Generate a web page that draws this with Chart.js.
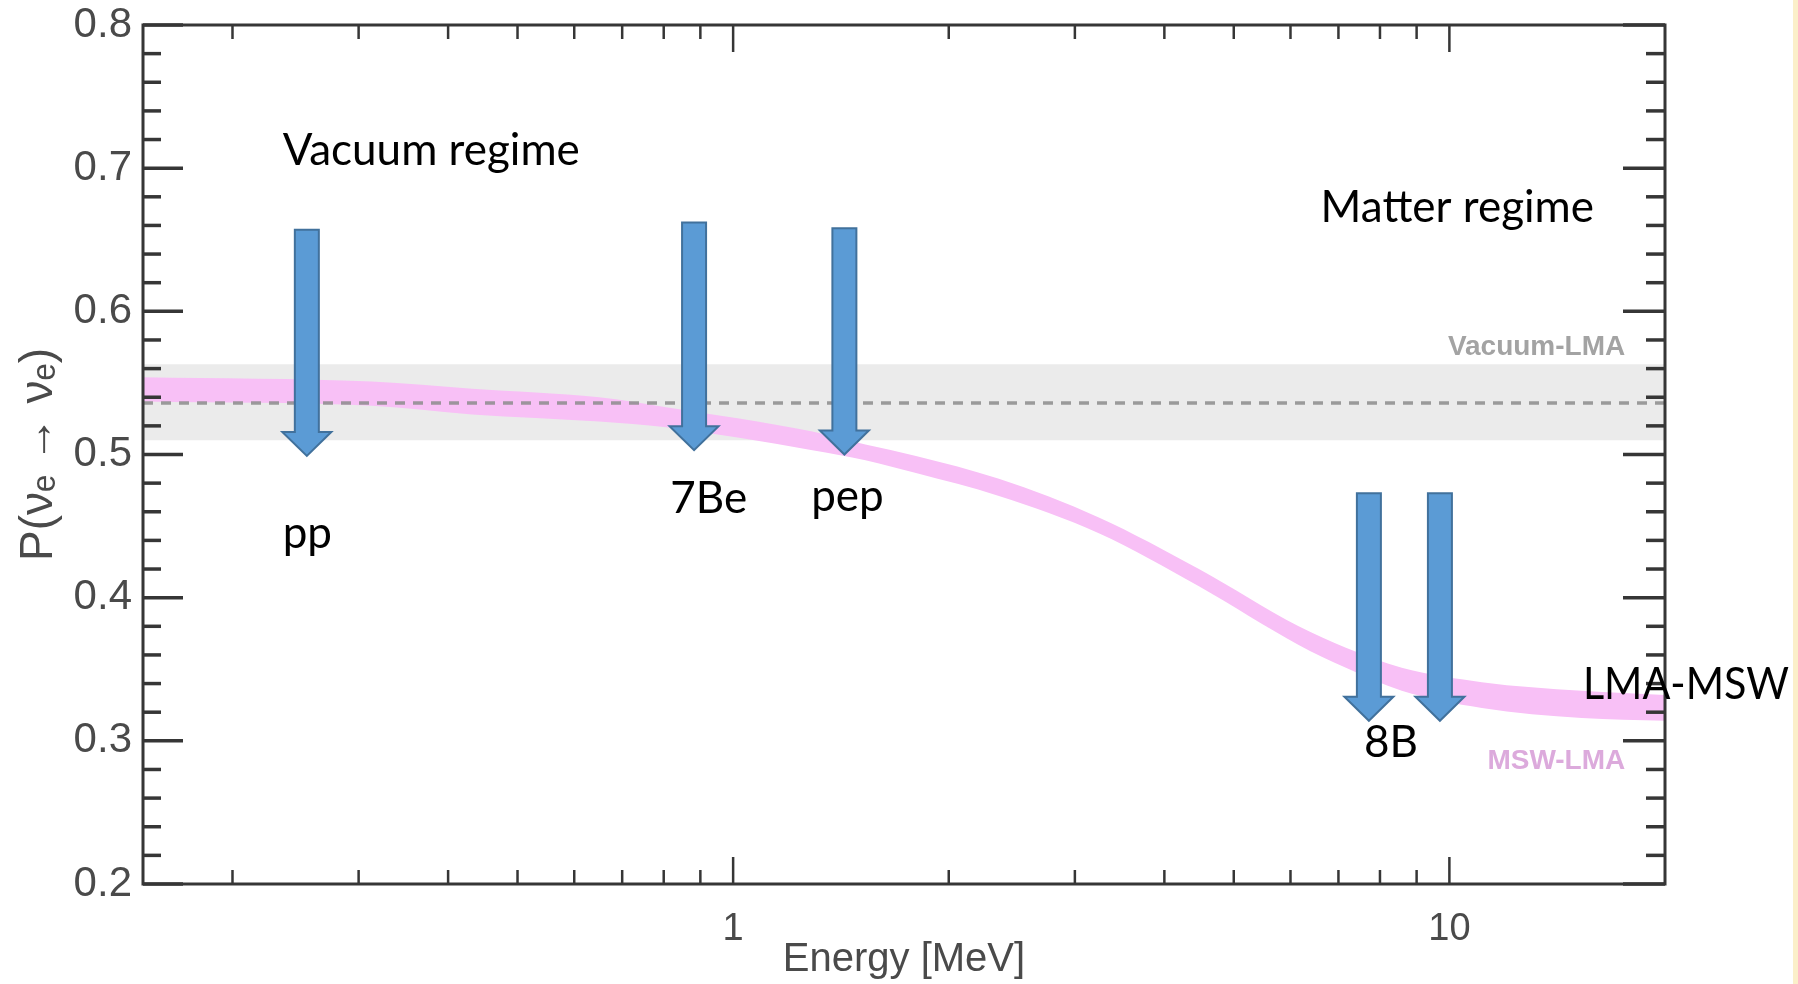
<!DOCTYPE html>
<html>
<head>
<meta charset="utf-8">
<script src="https://cdn.jsdelivr.net/npm/chart.js@4.4.0/dist/chart.umd.min.js"></script>
<style>
  html, body { margin: 0; padding: 0; background: #fff; }
  #wrap { width: 1798px; height: 984px; position: relative; }
</style>
</head>
<body>
<div id="wrap"><canvas id="chart" width="1798" height="984"></canvas></div>
<script>
// axis ranges and ticks
var xRange = [0.15, 20];
var yRange = [0.2, 0.8];
var xLabelTicks = [1, 10];
var xMinorTicks = [0.2, 0.3, 0.4, 0.5, 0.6, 0.7, 0.8, 0.9, 2, 3, 4, 5, 6, 7, 8, 9];
var yLabelTicks = [0.2, 0.3, 0.4, 0.5, 0.6, 0.7, 0.8];
var yMinorTicks = [0.22, 0.24, 0.26, 0.28, 0.32, 0.34, 0.36, 0.38, 0.42, 0.44, 0.46, 0.48,
                   0.52, 0.54, 0.56, 0.58, 0.62, 0.64, 0.66, 0.68, 0.72, 0.74, 0.76, 0.78];

// Vacuum-LMA band (flat)
var vacuumEnergy = [0.15, 20];
var vacuumUpper = [0.563, 0.563];
var vacuumLower = [0.510, 0.510];
var vacuumCentre = [0.536, 0.536];

// MSW-LMA band
var mswEnergy = [0.15, 0.313, 0.432, 0.65, 0.806, 1.29, 1.53, 1.80, 2.35, 3.24, 4.47, 6.16, 7.17, 8.58, 11.1, 15.3, 20];
var mswUpper = [0.554, 0.551, 0.546, 0.540, 0.533, 0.516, 0.507, 0.499, 0.483, 0.456, 0.420, 0.380, 0.365, 0.351, 0.341, 0.335, 0.332];
var mswLower = [0.537, 0.534, 0.528, 0.523, 0.519, 0.503, 0.496, 0.487, 0.471, 0.445, 0.408, 0.367, 0.351, 0.335, 0.323, 0.316, 0.314];

// source arrows (energy in MeV, probability at top and tip)
var arrowEnergy = [0.254, 0.882, 1.43, 7.72, 9.70];
var arrowTop = [0.657, 0.662, 0.658, 0.473, 0.473];
var arrowTip = [0.499, 0.503, 0.500, 0.314, 0.314];

// text notes, anchored in data units
var noteText = ['Vacuum regime', 'Matter regime', 'pp', '7Be', 'pep', '8B', 'LMA-MSW'];
var noteEnergy = [0.235, 6.61, 0.235, 0.817, 1.285, 7.60, 15.36];
var noteProb = [0.7023, 0.6625, 0.435, 0.4588, 0.4602, 0.2885, 0.329];

var bandNames = ['Vacuum-LMA', 'MSW-LMA'];
var bandNameEnergy = [17.6, 17.6];
var bandNameProb = [0.5697, 0.280];

function pts(xs, ys) {
  return xs.map(function (x, i) { return { x: x, y: ys[i] }; });
}

function tick(c, x1, y1, x2, y2) {
  c.beginPath();
  c.moveTo(x1, y1);
  c.lineTo(x2, y2);
  c.stroke();
}

function drawArrow(c, x, yTop, yTip) {
  var sw = 12, hw = 24.5, hl = 24;
  c.beginPath();
  c.moveTo(x - sw, yTop);
  c.lineTo(x + sw, yTop);
  c.lineTo(x + sw, yTip - hl);
  c.lineTo(x + hw, yTip - hl);
  c.lineTo(x, yTip);
  c.lineTo(x - hw, yTip - hl);
  c.lineTo(x - sw, yTip - hl);
  c.closePath();
  c.fillStyle = '#5b9bd5';
  c.fill();
  c.strokeStyle = '#41719c';
  c.lineWidth = 2;
  c.stroke();
}

var decorations = {
  id: 'decorations',
  beforeDraw: function (chart) {
    var c = chart.ctx;
    c.save();
    c.fillStyle = '#ffffff';
    c.fillRect(0, 0, chart.width, chart.height);
    c.fillStyle = '#fbefc9';
    c.fillRect(chart.width - 5, 0, 5, chart.height);
    c.restore();
  },
  afterDraw: function (chart) {
    var c = chart.ctx, xs = chart.scales.x, ys = chart.scales.y, a = chart.chartArea;
    c.save();
    c.strokeStyle = '#363636';
    c.lineWidth = 3.5;
    // y ticks, left and right, pointing in
    yLabelTicks.forEach(function (v) {
      var py = ys.getPixelForValue(v);
      tick(c, a.left, py, a.left + 40, py);
      tick(c, a.right, py, a.right - 42, py);
    });
    yMinorTicks.forEach(function (v) {
      var py = ys.getPixelForValue(v);
      tick(c, a.left, py, a.left + 18, py);
      tick(c, a.right, py, a.right - 19, py);
    });
    // x ticks, bottom and top
    c.lineWidth = 2.5;
    xLabelTicks.forEach(function (v) {
      var px = xs.getPixelForValue(v);
      tick(c, px, a.bottom, px, a.bottom - 27);
      tick(c, px, a.top, px, a.top + 27);
    });
    xMinorTicks.forEach(function (v) {
      var px = xs.getPixelForValue(v);
      tick(c, px, a.bottom, px, a.bottom - 14);
      tick(c, px, a.top, px, a.top + 14);
    });
    // frame
    c.lineWidth = 3;
    c.strokeRect(a.left, a.top, a.right - a.left, a.bottom - a.top);

    // band names
    c.font = 'bold 28px "Liberation Sans", Arial, sans-serif';
    c.textAlign = 'right';
    c.textBaseline = 'alphabetic';
    var bandColours = ['#a3a3a3', '#dcaadc'];
    bandNames.forEach(function (t, i) {
      c.fillStyle = bandColours[i];
      c.fillText(t, xs.getPixelForValue(bandNameEnergy[i]), ys.getPixelForValue(bandNameProb[i]));
    });

    // arrows
    arrowEnergy.forEach(function (e, i) {
      drawArrow(c, xs.getPixelForValue(e), ys.getPixelForValue(arrowTop[i]), ys.getPixelForValue(arrowTip[i]));
    });

    // notes (kept clear of the right edge)
    c.font = '44px Lato, "Noto Sans", sans-serif';
    c.fillStyle = '#000000';
    c.textAlign = 'left';
    noteText.forEach(function (t, i) {
      var px = xs.getPixelForValue(noteEnergy[i]);
      c.fillText(t, px, ys.getPixelForValue(noteProb[i]), chart.width - 9 - px);
    });
    c.restore();
  }
};

var ctx = document.getElementById('chart').getContext('2d');
var chart = new Chart(ctx, {
  type: 'line',
  data: {
    datasets: [
      {
        label: 'Vacuum-LMA upper',
        data: pts(vacuumEnergy, vacuumUpper),
        borderColor: 'rgba(0,0,0,0)',
        borderWidth: 0,
        pointRadius: 0,
        fill: false,
        order: 6
      },
      {
        label: 'Vacuum-LMA',
        data: pts(vacuumEnergy, vacuumLower),
        borderColor: 'rgba(0,0,0,0)',
        borderWidth: 0,
        backgroundColor: '#ebebeb',
        pointRadius: 0,
        fill: '-1',
        order: 5
      },
      {
        label: 'MSW-LMA upper',
        data: pts(mswEnergy, mswUpper),
        borderColor: 'rgba(0,0,0,0)',
        borderWidth: 0,
        pointRadius: 0,
        cubicInterpolationMode: 'monotone',
        fill: false,
        order: 4
      },
      {
        label: 'MSW-LMA',
        data: pts(mswEnergy, mswLower),
        borderColor: 'rgba(0,0,0,0)',
        borderWidth: 0,
        backgroundColor: 'rgb(248,192,246)',
        pointRadius: 0,
        cubicInterpolationMode: 'monotone',
        fill: '-1',
        order: 3
      },
      {
        label: 'Vacuum-LMA centre',
        data: pts(vacuumEnergy, vacuumCentre),
        borderColor: 'rgba(140,140,140,0.85)',
        borderWidth: 3.5,
        borderDash: [10, 8],
        pointRadius: 0,
        fill: false,
        order: 1
      }
    ]
  },
  options: {
    responsive: false,
    animation: false,
    layout: { padding: { left: 0, right: 133, top: 25, bottom: 0 } },
    plugins: {
      legend: { display: false },
      tooltip: { enabled: false }
    },
    scales: {
      x: {
        type: 'logarithmic',
        min: xRange[0],
        max: xRange[1],
        grid: { display: false, drawTicks: false },
        border: { display: false },
        afterFit: function (scale) {
          scale.height = 100;
          scale.paddingLeft = 0;
          scale.paddingRight = 0;
        },
        afterBuildTicks: function (scale) {
          scale.ticks = xLabelTicks.map(function (v) { return { value: v }; });
        },
        ticks: {
          autoSkip: false,
          maxRotation: 0,
          padding: 23,
          color: '#4a4a4a',
          font: { family: '"Liberation Sans", Arial, sans-serif', size: 38 },
          callback: function (v) { return String(v); }
        },
        title: {
          display: true,
          text: 'Energy [MeV]',
          color: '#4a4a4a',
          font: { family: '"Liberation Sans", Arial, sans-serif', size: 40 },
          padding: { top: 0, bottom: 0 }
        }
      },
      y: {
        min: yRange[0],
        max: yRange[1],
        grid: { display: false, drawTicks: false },
        border: { display: false },
        afterFit: function (scale) {
          scale.width = 143;
          scale.paddingTop = 0;
          scale.paddingBottom = 0;
        },
        afterBuildTicks: function (scale) {
          scale.ticks = yLabelTicks.map(function (v) { return { value: v }; });
        },
        ticks: {
          padding: 11,
          color: '#4a4a4a',
          font: { family: '"Liberation Sans", Arial, sans-serif', size: 42 },
          callback: function (v) { return Number(v).toFixed(1); }
        },
        title: {
          display: true,
          text: 'P(ν\u2091 \u2192 ν\u2091)',
          color: '#4a4a4a',
          font: { family: '"Liberation Sans", "DejaVu Sans", sans-serif', size: 46 },
          padding: { top: 12, bottom: 0 }
        }
      }
    }
  },
  plugins: [decorations]
});
</script>
</body>
</html>
